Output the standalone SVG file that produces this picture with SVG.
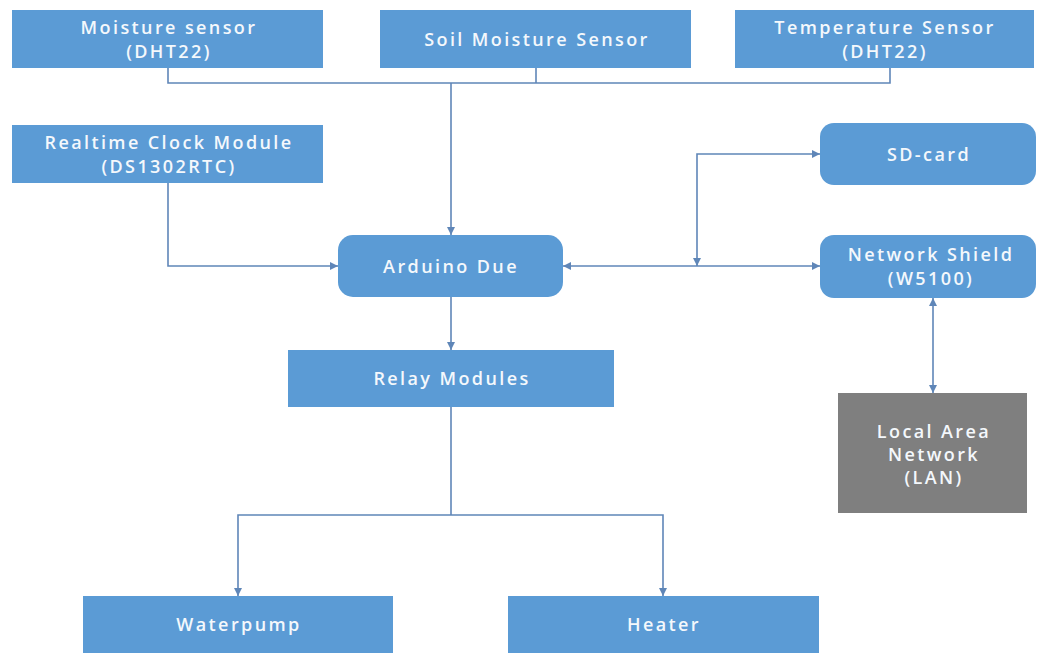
<svg xmlns="http://www.w3.org/2000/svg" width="1038" height="655" viewBox="0 0 1038 655">
<style>
.box{fill:#5b9bd5;}
.gray{fill:#7f7f7f;}
.t{font-family:"Open Sans","Liberation Sans",sans-serif;font-size:18px;font-weight:600;fill:#f4f8fc;text-anchor:middle;letter-spacing:2.4px;}
.c{fill:none;stroke:#5f86b8;stroke-width:1.6;}
</style>
<defs>
<marker id="ah" viewBox="0 0 10 10" refX="10" refY="5" markerWidth="9" markerHeight="8" markerUnits="userSpaceOnUse" orient="auto-start-reverse">
<path d="M0,0 L10,5 L0,10 z" fill="#5f86b8"/>
</marker>
</defs>
<rect width="1038" height="655" fill="#ffffff"/>
<g id="connectors">
<path class="c" d="M168,68 V83 H890 V68"/>
<path class="c" d="M536,68 V83"/>
<path class="c" d="M451,83 V235" marker-end="url(#ah)"/>
<path class="c" d="M168,183 V266 H338" marker-end="url(#ah)"/>
<path class="c" d="M563,266 H820" marker-start="url(#ah)" marker-end="url(#ah)"/>
<path class="c" d="M697,266 V154 H820" marker-start="url(#ah)" marker-end="url(#ah)"/>
<path class="c" d="M451,297 V350" marker-end="url(#ah)"/>
<path class="c" d="M451,407 V515"/>
<path class="c" d="M238,596 V515 H663 V596" marker-start="url(#ah)" marker-end="url(#ah)"/>
<path class="c" d="M933,298 V393" marker-start="url(#ah)" marker-end="url(#ah)"/>
</g>
<g id="moisture-sensor">
<rect class="box" x="12" y="10" width="311" height="58"/>
<text class="t" x="169" y="34">Moisture sensor</text>
<text class="t" x="169" y="58">(DHT22)</text>
</g>
<g id="soil-moisture-sensor">
<rect class="box" x="380" y="10" width="311" height="58"/>
<text class="t" x="537" y="46">Soil Moisture Sensor</text>
</g>
<g id="temperature-sensor">
<rect class="box" x="735" y="10" width="299" height="58"/>
<text class="t" x="885" y="34">Temperature Sensor</text>
<text class="t" x="885" y="58">(DHT22)</text>
</g>
<g id="rtc">
<rect class="box" x="12" y="125" width="311" height="58"/>
<text class="t" x="169" y="149">Realtime Clock Module</text>
<text class="t" x="169" y="173">(DS1302RTC)</text>
</g>
<g id="sd-card">
<rect class="box" x="820" y="123" width="216" height="62" rx="14"/>
<text class="t" x="929" y="161">SD-card</text>
</g>
<g id="arduino">
<rect class="box" x="338" y="235" width="225" height="62" rx="15"/>
<text class="t" x="451" y="273">Arduino Due</text>
</g>
<g id="network-shield">
<rect class="box" x="820" y="235" width="216" height="63" rx="14"/>
<text class="t" x="931" y="261">Network Shield</text>
<text class="t" x="931" y="285">(W5100)</text>
</g>
<g id="relay">
<rect class="box" x="288" y="350" width="326" height="57"/>
<text class="t" x="452" y="385">Relay Modules</text>
</g>
<g id="lan">
<rect class="gray" x="838" y="393" width="189" height="120"/>
<text class="t" x="934" y="438">Local Area</text>
<text class="t" x="934" y="461">Network</text>
<text class="t" x="934" y="484">(LAN)</text>
</g>
<g id="waterpump">
<rect class="box" x="83" y="596" width="310" height="57"/>
<text class="t" x="239" y="631">Waterpump</text>
</g>
<g id="heater">
<rect class="box" x="508" y="596" width="311" height="57"/>
<text class="t" x="664" y="631">Heater</text>
</g>
</svg>
